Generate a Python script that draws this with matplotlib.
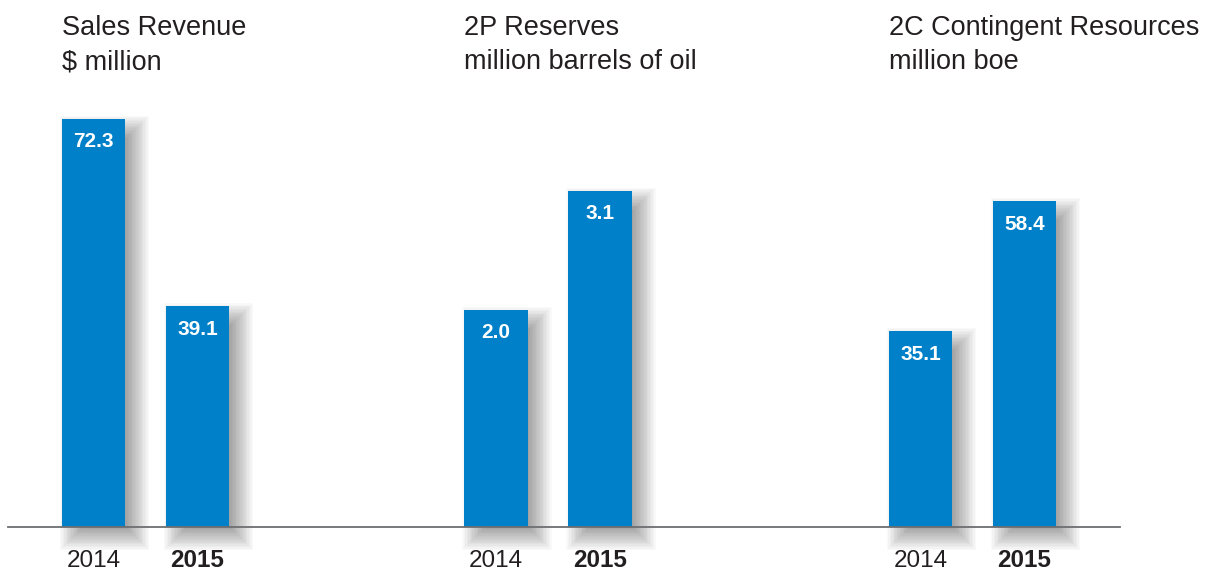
import matplotlib
matplotlib.use("Agg")
import matplotlib.pyplot as plt
from matplotlib.patches import Rectangle
from matplotlib.lines import Line2D

# ---- data ----
years = ["2014", "2015"]
titles = ["Sales Revenue\n$ million",
          "2P Reserves\nmillion barrels of oil",
          "2C Contingent Resources\nmillion boe"]
sales_revenue = [72.3, 39.1]
reserves_2p = [2.0, 3.1]
resources_2c = [35.1, 58.4]
value_labels = [["72.3", "39.1"], ["2.0", "3.1"], ["35.1", "58.4"]]
series = [sales_revenue, reserves_2p, resources_2c]

# ---- layout (pixels) ----
W, H = 1221, 573
DPI = 100
fig = plt.figure(figsize=(W / DPI, H / DPI), dpi=DPI)
fig.patch.set_facecolor("white")

base_px = 527          # baseline y (from top)
top_px = 100           # axes top (from top)
ax_w_px = 208
lefts_px = [41.5, 444.0, 868.5]
ylims = [75.6, 3.935, 76.5]
bar_w = 0.606
bar_color = "#0080c8"
text_color = "#231f20"

main_font = ["Liberation Sans", "DejaVu Sans"]
narrow_font = ["Liberation Sans Narrow", "Liberation Sans", "DejaVu Sans"]

ax_h_px = base_px - top_px
for i in range(3):
    ax = fig.add_axes([lefts_px[i] / W, (H - base_px) / H, ax_w_px / W, ax_h_px / H])
    ax.set_xlim(-0.5, 1.5)
    ax.set_ylim(0, ylims[i])
    ax.axis("off")
    px_x = 2.0 / ax_w_px            # data units per pixel (x)
    px_y = ylims[i] / ax_h_px       # data units per pixel (y)
    vals = series[i]
    xs = [0, 1]
    # soft shadows (down-right)
    n = 18
    ox, oy = 11, -10
    for x, v in zip(xs, vals):
        for k in range(n):
            e = -11 + k * 24 / (n - 1)   # expansion in px
            x0 = x - bar_w / 2 + (ox - e) * px_x
            w = bar_w + 2 * e * px_x
            y0 = (oy - e) * px_y
            h = v + 2 * e * px_y
            ax.add_patch(Rectangle((x0, y0), w, h, facecolor="black",
                                   edgecolor="none", alpha=0.024, zorder=1, clip_on=False))
    ax.bar(xs, vals, width=bar_w, color=bar_color, zorder=3)
    for x, v, lab in zip(xs, vals, value_labels[i]):
        ax.text(x, v - 23 * px_y, lab, ha="center", va="center", color="white",
                fontsize=15, fontweight="bold", family=narrow_font, zorder=4)
    # year labels
    for x, yr, wt in zip(xs, years, ["normal", "bold"]):
        ax.text(x, -(567 - base_px) * px_y, yr, ha="center", va="baseline", color=text_color,
                fontsize=17.5, fontweight=wt, family=main_font, clip_on=False)
    # title
    tx = -0.5 + (0.5 - bar_w / 2)
    ax.text(tx, (base_px - 28) * px_y, titles[i].split("\n")[0], ha="left", va="center",
            color=text_color, fontsize=19.5, family=main_font, clip_on=False)
    ax.text(tx, (base_px - 62) * px_y, titles[i].split("\n")[1], ha="left", va="center",
            color=text_color, fontsize=19.5, family=main_font, clip_on=False)

# baseline
fig.add_artist(Line2D([8 / W, 1120 / W], [(H - base_px) / H] * 2, color="#6d6e70",
                      linewidth=1.3, zorder=10))

fig.savefig("out.png", dpi=DPI)
